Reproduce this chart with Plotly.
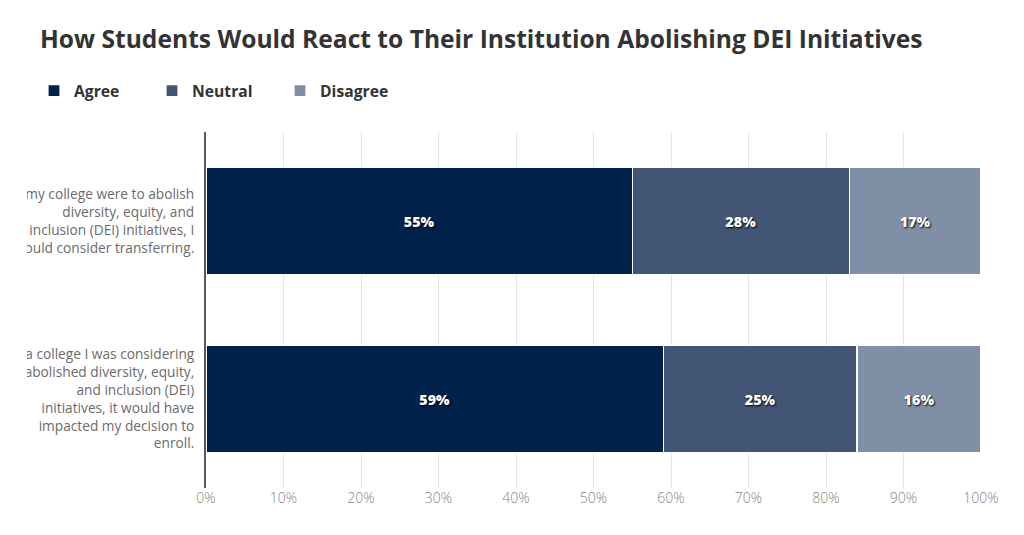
import plotly.graph_objects as go

categories = [
    "If my college were to abolish<br>diversity, equity, and<br>inclusion (DEI) initiatives, I<br>would consider transferring.",
    "If a college I was considering<br>abolished diversity, equity,<br>and inclusion (DEI)<br>initiatives, it would have<br>impacted my decision to<br>enroll.",
]
series_names = ["Agree", "Neutral", "Disagree"]
agree = [55, 59]
neutral = [28, 25]
disagree = [17, 16]
x_ticks = [0, 10, 20, 30, 40, 50, 60, 70, 80, 90, 100]
x_tick_labels = [f"{v}%" for v in x_ticks]

colors = ["#00214a", "#435574", "#7f8fa5"]
legend_widths = [73, 83, 80]

# the page body adds an 8px offset; positions below are compensated
OFF = 8
W, H = 1024, 535
L = 206 - OFF
R = 981 - OFF
T = 132 - OFF
B = 488 - OFF
CLIP_X = 27 - OFF  # left edge where the reference crops its category text

fig = go.Figure()
for name, vals, col, lw in zip(series_names, [agree, neutral, disagree], colors, legend_widths):
    fig.add_trace(go.Bar(
        y=categories, x=vals, name=name, orientation="h",
        marker=dict(color=col, line=dict(color="white", width=1.2)),
        text=[f"{v}%" for v in vals], textposition="inside",
        insidetextanchor="middle",
        textfont=dict(family="Open Sans", size=14.3, color="white", weight=800,
                      shadow="1px 1px 2px #000"),
        legendwidth=lw,
        hoverinfo="skip",
    ))

fig.add_shape(type="rect", xref="paper", yref="paper",
              x0=-1, x1=(CLIP_X - L) / (R - L), y0=-0.5, y1=1.5,
              fillcolor="white", line=dict(width=0), layer="above")

fig.update_layout(
    barmode="stack",
    bargap=0.40,
    width=W, height=H,
    margin=dict(l=L, r=W - R, t=T, b=H - B, autoexpand=False),
    paper_bgcolor="white", plot_bgcolor="white",
    title=dict(text="<b>How Students Would React to Their Institution Abolishing DEI Initiatives</b>",
               x=(40 - OFF) / W, xref="container", xanchor="left",
               y=1 - (39 - OFF) / H, yref="container", yanchor="middle",
               font=dict(family="Open Sans", size=24.6, color="#333333")),
    legend=dict(orientation="h", x=(34 - OFF) / W, xref="container", xanchor="left",
                y=1 - (91 - OFF) / H, yref="container", yanchor="middle",
                font=dict(family="Open Sans", size=15.7, color="#333333", weight="bold"),
                traceorder="normal"),
    showlegend=True,
    font=dict(family="Open Sans"),
)
fig.update_xaxes(range=[0, 100], tickmode="array", tickvals=x_ticks, ticktext=x_tick_labels,
                 showgrid=True, gridcolor="#e6e6e6", gridwidth=1,
                 zeroline=False, showline=False, automargin=False,
                 tickfont=dict(family="Open Sans", size=14, color="#858585", weight=300),
                 fixedrange=True)
fig.update_yaxes(autorange="reversed", showline=True, linecolor="#5a5a5a", linewidth=2,
                 showgrid=False, ticklabelstandoff=7, automargin=False,
                 tickfont=dict(family="Open Sans", size=13.7, color="#6b6b6b"),
                 fixedrange=True)

fig.write_html("out.html", config={"displayModeBar": False})
